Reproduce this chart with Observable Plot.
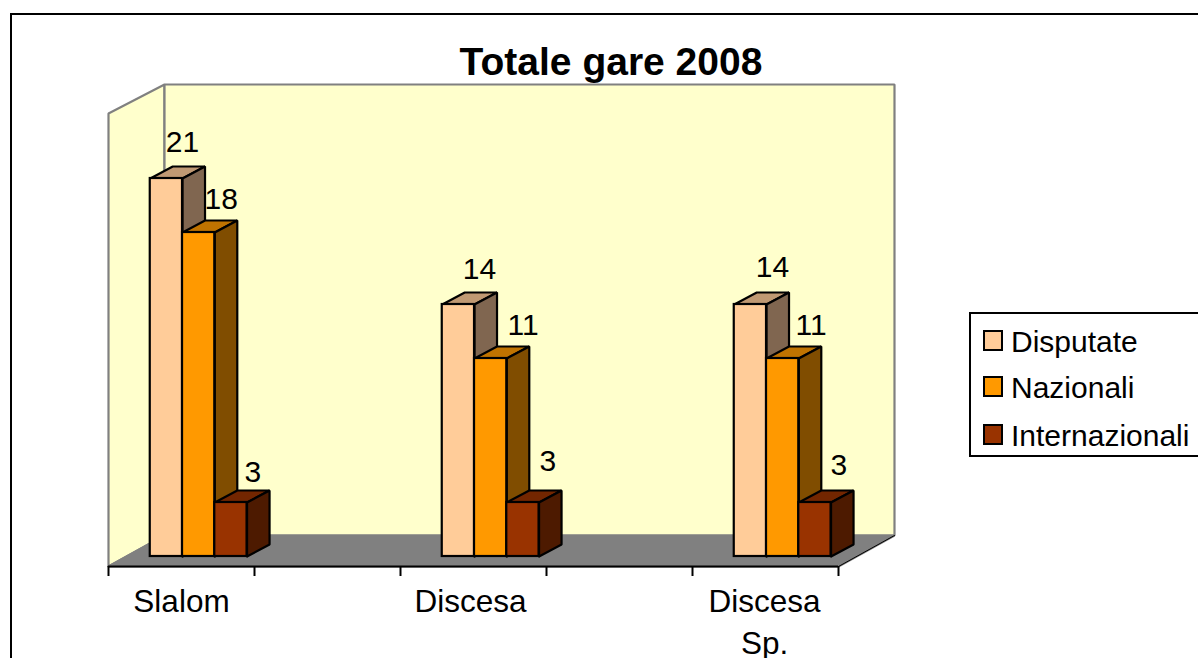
<!DOCTYPE html>
<html>
<head>
<meta charset="utf-8">
<script src="https://cdn.jsdelivr.net/npm/d3@7"></script>
<script src="https://cdn.jsdelivr.net/npm/@observablehq/plot@0.6"></script>
<style>
  html, body { margin: 0; padding: 0; background: #fff; overflow: hidden; width: 1198px; height: 658px; }
  body { position: relative; font-family: "Liberation Sans", Arial, sans-serif; color: #000; }
  #frame { position: absolute; left: 10px; top: 13px; width: 1300px; height: 800px; border: 2px solid #000; box-sizing: border-box; }
  #title { position: absolute; left: 400px; width: 422px; top: 40px; line-height: 44px; text-align: center; font-size: 39px; font-weight: bold; white-space: nowrap; }
  #chart { position: absolute; left: 0; top: 0; }
  #legend { position: absolute; left: 969px; top: 312px; width: 300px; height: 145px; border: 2px solid #000; box-sizing: border-box; background: #fff; }
  .item { position: absolute; left: 0; height: 40px; line-height: 40px; font-size: 30px; white-space: nowrap; }
  .item i { position: absolute; left: 12px; top: 8px; width: 20px; height: 21px; border: 2px solid #000; box-sizing: border-box; }
  .item span { position: absolute; left: 40px; }
</style>
</head>
<body>
<div id="frame"></div>
<div id="title"></div>
<div id="chart"></div>
<div id="legend"></div>
<script>
// --- data ---
const chartTitle = "Totale gare 2008";
const categories = ["Slalom", "Discesa", "Discesa\nSp."];
const seriesNames = ["Disputate", "Nazionali", "Internazionali"];
const disputate = [21, 14, 14];
const nazionali = [18, 11, 11];
const internazionali = [3, 3, 3];
const seriesValues = [disputate, nazionali, internazionali];

// --- style ---
const frontColors = ["#FFCC99", "#FF9900", "#993300"];
const topColors = ["#C09973", "#C07300", "#732600"];
const sideColors = ["#806650", "#804D00", "#4D1A00"];
const wallColor = "#FFFFCC", floorColor = "#808080";

// --- layout, in scale units (x: one category = 1; y: one race = 1) ---
const pxX = 1 / 292, pxY = 1 / 18;
const axisEnd = 2.5;
const groupStart = 0.143, barWidth = 0.1105;
const barDepthX = 22.5 * pxX, barDepthY = 12 * pxY;
const wallDepthX = 56 * pxX, wallDepthY = 31 * pxY, wallTopDepthY = 29 * pxY;
const floorY = -10 * pxY, wallTopY = 443 * pxY;
const tickValues = [0, 0.5, 1, 1.5, 2, 2.5];
const categoryLabelX = [0.25, 1.24, 2.247];
// hand-placed value labels: shift from the bar's centre (px right) and top (px up)
const labelShiftX = [[16, 22.5, 22], [21, 32.5, 25], [22, 28.5, 24]];
const labelShiftUp = [[36.5, 33, 30], [35, 33, 41], [37, 33, 37]];

// --- derived geometry ---
const bars = categories.flatMap((c, i) => seriesNames.map((s, j) => ({
  i, j, value: seriesValues[j][i],
  x1: i + groupStart + j * barWidth,
  x2: i + groupStart + (j + 1) * barWidth
})));
const polygons = [];
const addPolygon = (id, fill, stroke, corners) =>
  corners.concat([corners[0]]).forEach(([x, y]) => polygons.push({id, fill, stroke, x, y}));

addPolygon("side", wallColor, floorColor, [[0, floorY], [0, wallTopY], [wallDepthX, wallTopY + wallTopDepthY], [wallDepthX, floorY + wallDepthY]]);
addPolygon("back", wallColor, floorColor, [[wallDepthX, floorY + wallDepthY], [wallDepthX, wallTopY + wallTopDepthY], [axisEnd + wallDepthX, wallTopY + wallTopDepthY], [axisEnd + wallDepthX, floorY + wallDepthY]]);
addPolygon("floor", floorColor, floorColor, [[0, floorY], [axisEnd, floorY], [axisEnd + wallDepthX, floorY + wallDepthY], [wallDepthX, floorY + wallDepthY]]);
bars.forEach((b, n) => {
  addPolygon("top" + n, topColors[b.j], "#000", [[b.x1, b.value], [b.x2, b.value], [b.x2 + barDepthX, b.value + barDepthY], [b.x1 + barDepthX, b.value + barDepthY]]);
  addPolygon("sidebar" + n, sideColors[b.j], "#000", [[b.x2, 0], [b.x2, b.value], [b.x2 + barDepthX, b.value + barDepthY], [b.x2 + barDepthX, barDepthY]]);
});

const chart = Plot.plot({
  width: 1198, height: 658,
  marginLeft: 108, marginRight: 360, marginTop: 0, marginBottom: 92,
  style: {background: "transparent", overflow: "visible"},
  x: {domain: [0, axisEnd], axis: null},
  y: {domain: [floorY, 556 * pxY], axis: null},
  color: {type: "identity"},
  marks: [
    Plot.line(polygons, {x: "x", y: "y", z: "id", fill: "fill", stroke: "stroke", strokeWidth: 2.2, curve: "linear", strokeLinejoin: "miter"}),
    Plot.rect(bars, {x1: "x1", x2: "x2", y1: 0, y2: "value", fill: d => frontColors[d.j], stroke: "#000", strokeWidth: 2.2}),
    Plot.ruleY([floorY], {x1: 0, x2: axisEnd, stroke: "#000", strokeWidth: 2}),
    Plot.line([[axisEnd, floorY], [axisEnd + wallDepthX, floorY + wallDepthY]], {stroke: "#000", strokeWidth: 1}),
    Plot.ruleX(tickValues, {x: d => d, y1: floorY, y2: floorY - 10 * pxY, stroke: "#000", strokeWidth: 2}),
    Plot.text(bars, {
      x: d => (d.x1 + d.x2) / 2 + labelShiftX[d.i][d.j] * pxX,
      y: d => d.value + labelShiftUp[d.i][d.j] * pxY,
      text: d => String(d.value),
      fontSize: 30, fontFamily: "Liberation Sans, Arial, sans-serif", fill: "#000"
    }),
    Plot.text(categories, {
      x: (d, i) => categoryLabelX[i], y: floorY - 16 * pxY,
      text: d => d, lineAnchor: "top", lineHeight: 1.32,
      fontSize: 31.5, fontFamily: "Liberation Sans, Arial, sans-serif", fill: "#000"
    })
  ]
});
document.getElementById("chart").append(chart);
document.getElementById("title").textContent = chartTitle;

const legendTops = [8, 54, 102];
const legend = document.getElementById("legend");
seriesNames.forEach((name, j) => {
  const item = document.createElement("div");
  item.className = "item";
  item.style.top = legendTops[j] + "px";
  const swatch = document.createElement("i");
  swatch.style.background = frontColors[j];
  const label = document.createElement("span");
  label.textContent = name;
  item.append(swatch, label);
  legend.append(item);
});
</script>
</body>
</html>
